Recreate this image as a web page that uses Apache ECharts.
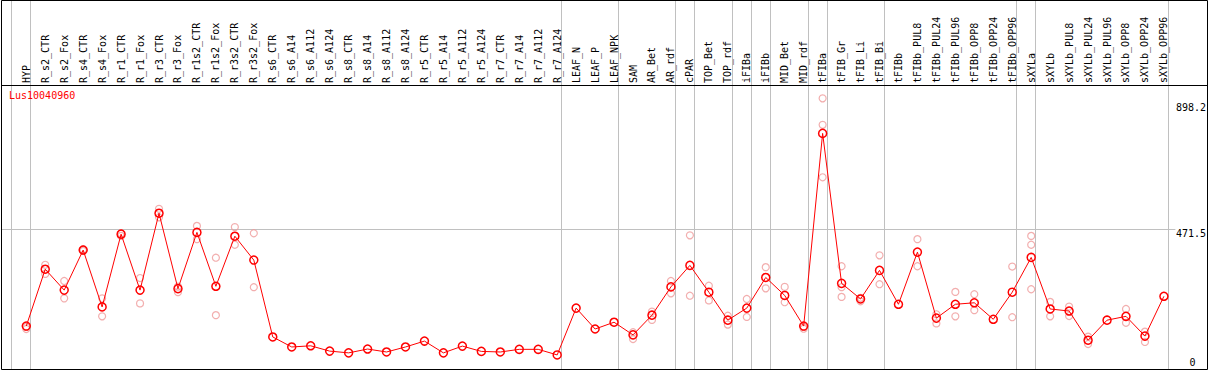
<!DOCTYPE html>
<html><head><meta charset="utf-8">
<script src="https://cdn.jsdelivr.net/npm/echarts@6/dist/echarts.min.js"></script>
<style>html,body{margin:0;padding:0;background:#fff}#c{width:1209px;height:370px}</style>
</head><body><div id="c"></div>
<script>
const geneName = 'Lus10040960';
const categories = ['HYP','R_s2_CTR','R_s2_Fox','R_s4_CTR','R_s4_Fox','R_r1_CTR','R_r1_Fox','R_r3_CTR','R_r3_Fox',
  'R_r1s2_CTR','R_r1s2_Fox','R_r3s2_CTR','R_r3s2_Fox','R_s6_CTR','R_s6_A14','R_s6_A112','R_s6_A124',
  'R_s8_CTR','R_s8_A14','R_s8_A112','R_s8_A124','R_r5_CTR','R_r5_A14','R_r5_A112','R_r5_A124',
  'R_r7_CTR','R_r7_A14','R_r7_A112','R_r7_A124','LEAF_N','LEAF_P','LEAF_NPK','SAM','AR_Bet','AR_rdf',
  'cPAR','TOP_Bet','TOP_rdf','iFIBa','iFIBb','MID_Bet','MID_rdf','tFIBa','tFIB_Gr','tFIB_Li','tFIB_Bi',
  'tFIBb','tFIBb_PUL8','tFIBb_PUL24','tFIBb_PUL96','tFIBb_OPP8','tFIBb_OPP24','tFIBb_OPP96',
  'sXYLa','sXYLb','sXYLb_PUL8','sXYLb_PUL24','sXYLb_PUL96','sXYLb_OPP8','sXYLb_OPP24','sXYLb_OPP96'];
const means = [141,334,263,399,206,453,263,524,268,459,276,446,365,104,70,74,56,50,63,53,70,90,50,73,55,53,62,62,43,
  202,131,154,111,178,274,347,256,161,202,306,245,141,795,286,233,330,215,392,168,215,220,164,256,
  374,199,192,93,161,174,107,242];
const replicates = [[138,131],[349,318],[294,235],[402,396],[235,174],[456,447],[304,218],[539,510],[275,256],
  [481,436],[373,178],[477,417],[456,273],[],[],[],[],[],[],[],[],[],[],[],[],[],[],[],[],
  [],[],[],[120,97],[190,162],[294,252],[449,244],[278,228],[176,146],[233,172],[341,269],[274,222],[132,138],
  [914,824,646],[344,273,240],[237,225],[381,283],[],[436,344],[181,150],[257,174],[249,195],[],[343,171],
  [447,417,266],[223,174],[207,175],[105,80],[],[199,152],[122,87],[]];
const groupEnds = [-1,0,28,31,34,35,37,38,39,41,42,45,52,53,60];
const refValue = 471.5;
const yLabels = [471.5, 898.2];
const yZeroLabel = [0];
const yMax = 959.3;

const FONT = 'DejaVu Sans Mono';
const chart = echarts.init(document.getElementById('c'), null, {renderer: 'svg'});
const repData = [];
replicates.forEach((arr, i) => arr.forEach(v => repData.push([i, v])));

const yAxisBase = {
  type: 'value', position: 'right', min: 0, max: yMax,
  axisLine: {show: false}, axisTick: {show: false}, splitLine: {show: false}
};

chart.setOption({
  animation: false,
  backgroundColor: '#ffffff',
  title: {text: geneName, left: 9, top: 90, padding: 0,
    textStyle: {color: '#ff0000', fontFamily: FONT, fontSize: 10, fontWeight: 'normal'}},
  grid: {left: 16.8, width: 1159, top: 85, height: 282.6},
  xAxis: {type: 'category', data: categories, position: 'top', boundaryGap: true,
    axisLine: {show: false}, axisTick: {show: false}, splitLine: {show: false},
    axisLabel: {interval: 0, rotate: 90, margin: 2, color: '#000', fontFamily: FONT, fontSize: 10}},
  yAxis: [
    Object.assign({}, yAxisBase, {axisLabel: {customValues: yLabels, verticalAlign: 'top', margin: 2.5,
      color: '#000', fontFamily: FONT, fontSize: 10}}),
    Object.assign({}, yAxisBase, {axisLabel: {customValues: yZeroLabel, verticalAlign: 'bottom', margin: 16,
      color: '#000', fontFamily: FONT, fontSize: 10}})
  ],
  graphic: [
    {type: 'rect', z: 100, silent: true, shape: {x: 1.5, y: 0.5, width: 1206, height: 369},
      style: {fill: 'none', stroke: '#000', lineWidth: 1}},
    {type: 'line', z: 100, silent: true, shape: {x1: 1, y1: 85.5, x2: 1208, y2: 85.5},
      style: {stroke: '#000', lineWidth: 1}}
  ],
  series: [
    {type: 'custom', z: 0, silent: true, clip: false,
      data: groupEnds.map(g => [Math.max(g, 0), 0, g]),
      encode: {x: 0, y: 1},
      renderItem: function (params, api) {
        const g = api.value(2);
        const base = api.coord([0, 0])[0];
        const step = api.size([1, 0])[0];
        const x = Math.round(base + g * step + 4) + 0.5;
        return {type: 'line', shape: {x1: x, y1: 1, x2: x, y2: 369},
          style: {stroke: '#c0c0c0', lineWidth: 1}};
      }},
    {type: 'custom', z: 0, silent: true, clip: false,
      data: [[0, refValue]],
      encode: {x: 0, y: 1},
      renderItem: function (params, api) {
        const y = Math.round(api.coord([0, api.value(1)])[1]) + 0.5;
        const cs = params.coordSys;
        return {type: 'line', shape: {x1: 2, y1: y, x2: cs.x + cs.width + 2, y2: y},
          style: {stroke: '#c0c0c0', lineWidth: 1}};
      }},
    {type: 'scatter', z: 2, silent: true, data: repData, symbol: 'circle', symbolSize: 7,
      itemStyle: {color: 'rgba(0,0,0,0)', borderColor: '#ef9a9a', borderWidth: 1.2}},
    {type: 'line', z: 3, silent: true, data: means, symbol: 'circle', symbolSize: 8,
      lineStyle: {color: '#ff0000', width: 1},
      itemStyle: {color: 'rgba(0,0,0,0)', borderColor: '#ff0000', borderWidth: 1.5}}
  ]
});
</script>
</body></html>
